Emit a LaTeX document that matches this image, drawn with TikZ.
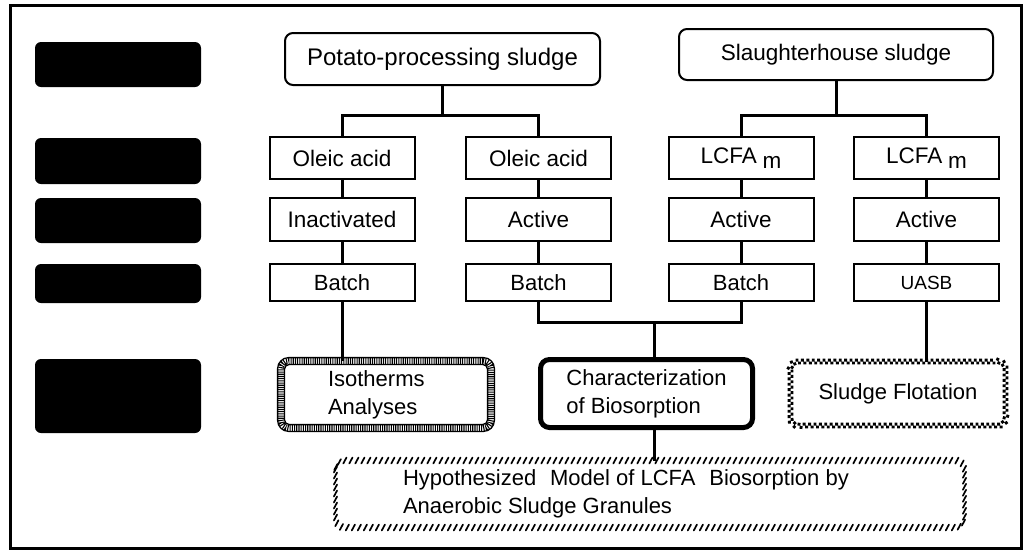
\documentclass[tikz,border=0pt]{standalone}
\usepackage{fontspec}
\setmainfont{Liberation Sans}
\usetikzlibrary{decorations.markings}
\begin{document}
\begin{tikzpicture}[x=1pt,y=-1pt,
  lab/.style={fill=black, rounded corners=6pt, minimum width=166pt, inner sep=0pt, outer sep=0pt},
  src/.style={draw, line width=2pt, rounded corners=8pt, inner sep=0pt, outer sep=0pt, font=\fontsize{24}{28}\selectfont},
  cell/.style={draw, line width=2pt, minimum width=145pt, inner sep=0pt, outer sep=0pt, font=\fontsize{22.5}{26}\selectfont},
  conn/.style={line width=3pt},
  res/.style={inner sep=0pt, outer sep=0pt, align=left, font=\fontsize{22}{28}\selectfont},
]
\useasboundingbox (0,0) rectangle (1031,552);
\draw[line width=3pt] (10,5) rectangle (1021,548);

% black label boxes
\node[lab, minimum height=45pt] (lab1) at (118,64.5) {};
\node[lab, minimum height=46pt] (lab2) at (118,161) {};
\node[lab, minimum height=45pt] (lab3) at (118,220.5) {};
\node[lab, minimum height=39pt] (lab4) at (118,283.5) {};
\node[lab, minimum height=74pt] (lab5) at (118,396) {};

% sources
\node[src, minimum width=315pt, minimum height=52pt] (pot) at (442.5,59) {Potato-processing sludge};
\node[src, font=\fontsize{22.5}{26}\selectfont, minimum width=314pt, minimum height=51pt] (sla) at (836,54.5) {Slaughterhouse sludge};

% row 1
\node[cell, minimum height=42pt] (a1) at (342,158) {Oleic acid};
\node[cell, minimum height=42pt] (a2) at (538.5,158) {Oleic acid};
\node[cell, minimum height=42pt] (a3) at (741,158) {LCFA\hspace{0.25em}\raisebox{-5pt}{m}};
\node[cell, minimum height=42pt] (a4) at (926.5,158) {LCFA\hspace{0.25em}\raisebox{-5pt}{m}};
% row 2
\node[cell, minimum height=43pt] (b1) at (342,219.5) {Inactivated};
\node[cell, minimum height=43pt] (b2) at (538.5,219.5) {Active};
\node[cell, minimum height=43pt] (b3) at (741,219.5) {Active};
\node[cell, minimum height=43pt] (b4) at (926.5,219.5) {Active};
% row 3
\node[cell, minimum height=37pt, font=\fontsize{22}{26}\selectfont] (c1) at (342,282.5) {Batch};
\node[cell, minimum height=37pt, font=\fontsize{22}{26}\selectfont] (c2) at (538.5,282.5) {Batch};
\node[cell, minimum height=37pt, font=\fontsize{22}{26}\selectfont] (c3) at (741,282.5) {Batch};
\node[cell, minimum height=37pt, font=\fontsize{19}{23}\selectfont] (c4) at (926.5,282.5) {UASB};

% result boxes
\node[res, draw, line width=6pt, dash pattern=on 1.1pt off 1.1pt, rounded corners=8pt,
      minimum width=210pt, minimum height=67pt] (iso) at (386,394.5) {};
\node[res, anchor=west] (isotxt) at (328,394.5) {Isotherms\\Analyses};
\draw[line width=1.3pt, rounded corners=11pt] ([shift={(-3.4pt,3.4pt)}]iso.north west) rectangle ([shift={(3.4pt,-3.4pt)}]iso.south east);
\draw[line width=1.3pt, rounded corners=5pt] ([shift={(3.4pt,-3.4pt)}]iso.north west) rectangle ([shift={(-3.4pt,3.4pt)}]iso.south east);

\node[res, draw, line width=5pt, rounded corners=9pt, minimum width=212pt, minimum height=68pt] (chr) at (646.5,393.5) {Characterization\\of Biosorption};

\node[res, minimum width=215pt, minimum height=64pt] (sf) at (898,393.5) {Sludge Flotation};
\path[decorate, decoration={markings,
    mark=between positions 0 and 1 step 5.4pt with {\fill[sharp corners] (0pt,0pt) rectangle (2.9pt,2.9pt) (2.5pt,-2.9pt) rectangle (5.4pt,0pt);}},
    rounded corners=8pt] (sf.north west) rectangle (sf.south east);

\node[inner sep=0pt, outer sep=0pt, minimum width=629pt, minimum height=67pt] (hyp) at (650,494) {};
\path[decorate, decoration={markings,
    mark=between positions 0 and 1 step 6pt with {\pgftransformresetnontranslations \draw[sharp corners, line width=1.7pt, line cap=round] (-1.6pt,-3pt) -- (1.6pt,3pt);}},
    rounded corners=9pt] (hyp.north west) rectangle (hyp.south east);
\node[res, anchor=west] (hyptxt) at (403,494) {Hypothesized\hspace{0.35em} Model of LCFA\hspace{0.35em} Biosorption by\\Anaerobic Sludge Granules};

% connectors
\coordinate (pj) at (442.5,115);
\coordinate (sj) at (836,115);
\coordinate (jn) at (654,322);
\draw[conn] (pot.south) -- (pj);
\draw[conn] (a1.north) |- (pj) -| (a2.north);
\draw[conn] (sla.south) -- (sj);
\draw[conn] (a3.north) |- (sj) -| (a4.north);
\foreach \c in {1,2,3,4}{
  \draw[conn] (a\c.south) -- (b\c.north);
  \draw[conn] (b\c.south) -- (c\c.north);
}
\draw[conn] (c1.south) -- (c1.south |- iso.north);
\draw[conn] (c2.south) |- (jn) -| (c3.south);
\draw[conn] (jn) -- (jn |- chr.north);
\draw[conn] (c4.south) -- (c4.south |- sf.north);
\draw[conn] (jn |- chr.south) -- (jn |- hyp.north);
\end{tikzpicture}
\end{document}
